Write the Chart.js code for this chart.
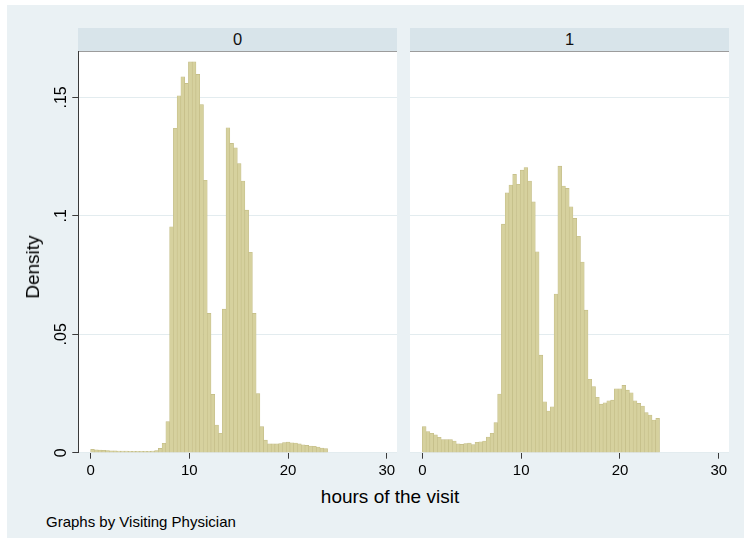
<!DOCTYPE html>
<html>
<head>
<meta charset="utf-8">
<script src="https://cdn.jsdelivr.net/npm/chart.js@4/dist/chart.umd.min.js"></script>
<style>
  html, body { margin: 0; padding: 0; background: #ffffff; }
  body { width: 747px; height: 545px; position: relative; overflow: hidden;
         font-family: 'Liberation Sans', Arial, Helvetica, sans-serif; color: #000; }
  #frame { position: absolute; left: 7px; top: 5px; width: 737px; height: 533px; background: #eaf1f4; }
  .strip { position: absolute; top: 27.7px; height: 23.3px; line-height: 23.3px; background: #d8e4ea;
           text-align: center; font-size: 16.5px; color: #111; }
  .plotbg { position: absolute; top: 51px; height: 401.7px; background: #ffffff; }
  canvas { position: absolute; }
  #ytitle { position: absolute; left: 33px; top: 267px; transform: translate(-50%, -50%) rotate(-90deg);
            font-size: 19px; white-space: nowrap; }
  #xtitle { position: absolute; left: 390px; top: 497px; transform: translate(-50%, -50%);
            font-size: 19px; white-space: nowrap; }
  #note { position: absolute; left: 46px; top: 521px; transform: translateY(-50%);
          font-size: 15px; white-space: nowrap; }
</style>
</head>
<body>
<div id="frame"></div>
<div class="plotbg" style="left:78.3px;width:318.7px"></div>
<div class="plotbg" style="left:410px;width:319px"></div>
<div class="strip" id="strip0" style="left:78.3px;width:318.7px"></div>
<div class="strip" id="strip1" style="left:410px;width:319px"></div>
<canvas id="panel0" width="390" height="430" style="left:7px;top:51px"></canvas>
<canvas id="panel1" width="319" height="430" style="left:410px;top:51px"></canvas>
<div id="ytitle">Density</div>
<div id="xtitle">hours of the visit</div>
<div id="note">Graphs by Visiting Physician</div>

<script>
// Histogram of visit hour, 63 bins from 0 to 24, split by Visiting Physician
const panelLabels = ['0', '1'];
const binStart = 0;
const binWidth = 24 / 63;

// Density per bin, Visiting Physician = 0
const densityPanel0 = [
  0.0014, 0.0012, 0.0011, 0.0010, 0.0009, 0.0008, 0.0008, 0.0007, 0.0007, 0.0007,
  0.0006, 0.0006, 0.0006, 0.0006, 0.0006, 0.0006, 0.0007, 0.0009, 0.0018, 0.0040,
  0.0131, 0.0954, 0.1370, 0.1507, 0.1587, 0.1559, 0.1650, 0.1650, 0.1597, 0.1470,
  0.1150, 0.0588, 0.0246, 0.0117, 0.0082, 0.0606, 0.1372, 0.1306, 0.1287, 0.1221,
  0.1147, 0.1024, 0.0846, 0.0588, 0.0250, 0.0110, 0.0053, 0.0037, 0.0037, 0.0037,
  0.0038, 0.0043, 0.0045, 0.0042, 0.0041, 0.0037, 0.0033, 0.0031, 0.0028, 0.0027,
  0.0024, 0.0020, 0.0017
];

// Density per bin, Visiting Physician = 1
const densityPanel1 = [
  0.0110, 0.0089, 0.0082, 0.0075, 0.0065, 0.0055, 0.0055, 0.0055, 0.0049, 0.0037,
  0.0035, 0.0039, 0.0041, 0.0034, 0.0044, 0.0046, 0.0049, 0.0066, 0.0082, 0.0127,
  0.0248, 0.0965, 0.1097, 0.1130, 0.1175, 0.1133, 0.1193, 0.1204, 0.1147, 0.1059,
  0.0848, 0.0412, 0.0215, 0.0176, 0.0194, 0.0670, 0.1210, 0.1126, 0.1116, 0.1038,
  0.0989, 0.0914, 0.0805, 0.0602, 0.0310, 0.0279, 0.0234, 0.0205, 0.0211, 0.0219,
  0.0222, 0.0270, 0.0270, 0.0284, 0.0264, 0.0253, 0.0219, 0.0208, 0.0197, 0.0169,
  0.0159, 0.0138, 0.0145
];

const xTicks = [0, 10, 20, 30];
const yTicks = [0, 0.05, 0.1, 0.15];
const yTickText = ['0', '.05', '.1', '.15'];

const X_MIN = -1.25, X_MAX = 31.03;
const Y_MAX = 0.1696;
const FILL = '#d6d19e';
const EDGE = '#c2bb85';
const AXIS = '#3a3a3a';
const GRID = '#e3ecef';
const FONT = "'Liberation Sans', Arial, Helvetica, sans-serif";

document.getElementById('strip0').textContent = panelLabels[0];
document.getElementById('strip1').textContent = panelLabels[1];

function toBars(values) {
  return values.map((v, k) => ({ x: binStart + (k + 0.5) * binWidth, y: v }));
}

function makePanel(id, values, withYAxis) {
  return new Chart(document.getElementById(id), {
    type: 'bar',
    data: {
      datasets: [{
        data: toBars(values),
        backgroundColor: FILL,
        borderColor: EDGE,
        borderWidth: 0.6,
        borderSkipped: false,
        barPercentage: 1,
        categoryPercentage: 1
      }]
    },
    options: {
      responsive: false,
      animation: false,
      devicePixelRatio: 1,
      layout: { padding: 0 },
      plugins: { legend: { display: false }, tooltip: { enabled: false } },
      scales: {
        x: {
          type: 'linear',
          min: X_MIN, max: X_MAX,
          offset: false,
          afterBuildTicks: s => { s.ticks = xTicks.map(v => ({ value: v })); },
          ticks: { color: '#000', font: { family: FONT, size: 15 }, padding: 3,
                   maxRotation: 0, autoSkip: false, includeBounds: false,
                   callback: v => String(v) },
          grid: { z: 1, offset: false, drawOnChartArea: false, tickLength: 6,
                  color: AXIS, tickColor: AXIS, lineWidth: 1 },
          border: { display: true, color: AXIS, width: 1 },
          afterFit: s => { s.height = 28.3; s.paddingLeft = 0; s.paddingRight = 0; }
        },
        y: {
          min: 0, max: Y_MAX,
          afterBuildTicks: s => { s.ticks = yTicks.map(v => ({ value: v })); },
          ticks: { display: withYAxis, color: '#000', font: { family: FONT, size: 16 },
                   minRotation: 90, maxRotation: 90, crossAlign: 'center', padding: 0,
                   includeBounds: false,
                   callback: v => yTickText[yTicks.indexOf(v)] },
          grid: { color: GRID, tickColor: AXIS, tickLength: 6, drawTicks: withYAxis, lineWidth: 1 },
          border: { display: withYAxis, color: AXIS, width: 1 },
          afterFit: s => { s.width = withYAxis ? 71.3 : 0; s.paddingTop = 0; s.paddingBottom = 0; }
        }
      }
    }
  });
}

makePanel('panel0', densityPanel0, true);
makePanel('panel1', densityPanel1, false);
</script>
</body>
</html>
